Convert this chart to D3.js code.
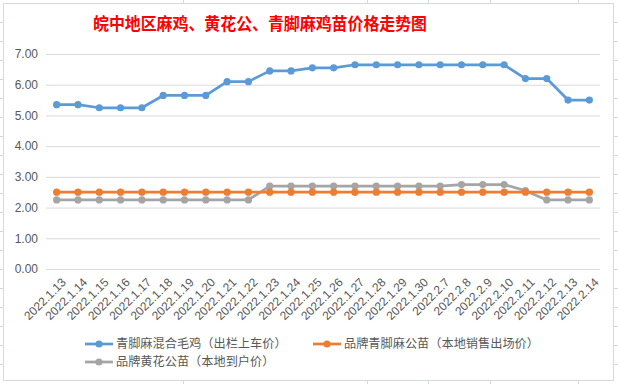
<html>
<head>
  <meta charset="utf-8" />
  <title>皖中地区麻鸡、黄花公、青脚麻鸡苗价格走势图</title>
  <style type="text/css">
    body { margin: 0; background: #fff; }
    svg { display: block; font-family: "Noto Sans CJK SC", "Noto Sans", sans-serif; }
  </style>
  <script src="https://cdn.jsdelivr.net/npm/d3@7/dist/d3.min.js"></script>
</head>
<body>
  <svg width="618" height="384"></svg>
<script>
  var dates = ["2022.1.13", "2022.1.14", "2022.1.15", "2022.1.16", "2022.1.17", "2022.1.18", "2022.1.19",
    "2022.1.20", "2022.1.21", "2022.1.22", "2022.1.23", "2022.1.24", "2022.1.25", "2022.1.26", "2022.1.27",
    "2022.1.28", "2022.1.29", "2022.1.30", "2022.2.7", "2022.2.8", "2022.2.9", "2022.2.10", "2022.2.11",
    "2022.2.12", "2022.2.13", "2022.2.14"];

  var maji = [5.35, 5.35, 5.25, 5.25, 5.25, 5.65, 5.65, 5.65, 6.1, 6.1, 6.45, 6.45, 6.55, 6.55, 6.65,
    6.65, 6.65, 6.65, 6.65, 6.65, 6.65, 6.65, 6.2, 6.2, 5.5, 5.5];
  var qingjiao = [2.5, 2.5, 2.5, 2.5, 2.5, 2.5, 2.5, 2.5, 2.5, 2.5, 2.5, 2.5, 2.5, 2.5, 2.5,
    2.5, 2.5, 2.5, 2.5, 2.5, 2.5, 2.5, 2.5, 2.5, 2.5, 2.5];
  var huanghua = [2.25, 2.25, 2.25, 2.25, 2.25, 2.25, 2.25, 2.25, 2.25, 2.25, 2.7, 2.7, 2.7, 2.7, 2.7,
    2.7, 2.7, 2.7, 2.7, 2.75, 2.75, 2.75, 2.55, 2.25, 2.25, 2.25];

  var yTicks = [0, 1, 2, 3, 4, 5, 6, 7];

  var series = [
    { name: "青脚麻混合毛鸡（出栏上车价）", values: maji, color: "#5b9bd5" },
    { name: "品牌青脚麻公苗（本地销售出场价）", values: qingjiao, color: "#ed7d31" },
    { name: "品牌黄花公苗（本地到户价）", values: huanghua, color: "#a5a5a5" }
  ];

  var svg = d3.select("svg");

  // spreadsheet cells peeking out around the chart
  var edge = svg.append("g").attr("stroke", "#d0d7e5").attr("stroke-width", 1);
  [22, 41, 60, 79, 98, 117, 136, 155, 174, 193, 212, 231, 250, 269, 288, 307, 326, 345, 364].forEach(function (y) {
    edge.append("line").attr("x1", 0).attr("x2", 3).attr("y1", y + 0.5).attr("y2", y + 0.5);
    edge.append("line").attr("x1", 614).attr("x2", 618).attr("y1", y + 0.5).attr("y2", y + 0.5);
  });
  [183, 367, 428, 490, 578].forEach(function (x) {
    edge.append("line").attr("x1", x + 0.5).attr("x2", x + 0.5).attr("y1", 0).attr("y2", 3);
    edge.append("line").attr("x1", x + 0.5).attr("x2", x + 0.5).attr("y1", 381).attr("y2", 384);
  });

  svg.append("rect")
    .attr("x", 3.5).attr("y", 3.5).attr("width", 610).attr("height", 377)
    .attr("fill", "#fff").attr("stroke", "#d9d9d9");

  var title = svg.append("text")
    .attr("x", 260).attr("y", 30)
    .attr("text-anchor", "middle")
    .attr("fill", "#ff0000")
    .style("font-size", "17.5px")
    .style("font-weight", "bold")
    .text("皖中地区麻鸡、黄花公、青脚麻鸡苗价格走势图");
  // keep the title to the width it has in the original
  if (title.node().getComputedTextLength() > 334) {
    title.attr("textLength", 334).attr("lengthAdjust", "spacingAndGlyphs");
  }

  var x = d3.scaleBand().domain(dates).range([46, 600]);
  var y = d3.scaleLinear().domain([0, 7]).range([269, 54]);
  var cx = function (d, i) { return x(dates[i]) + x.bandwidth() / 2 };

  // gridlines + y labels
  var yAxis = svg.append("g")
    .attr("transform", "translate(46,0)")
    .call(d3.axisLeft(y).tickValues(yTicks).tickFormat(d3.format(".2f")).tickSize(-554).tickPadding(8));
  yAxis.select(".domain").remove();
  yAxis.selectAll(".tick line").attr("stroke", "#d9d9d9");
  yAxis.selectAll(".tick text").attr("fill", "#595959").style("font-size", "12px")
    .style("font-family", "'Liberation Sans', Arial, sans-serif");

  // x labels
  var xAxis = svg.append("g")
    .attr("transform", "translate(0,269)")
    .call(d3.axisBottom(x).tickSize(0));
  xAxis.select(".domain").remove();
  xAxis.selectAll(".tick text")
    .attr("fill", "#595959")
    .style("font-size", "12px")
    .style("font-family", "'Liberation Sans', Arial, sans-serif")
    .attr("text-anchor", "end")
    .attr("dy", null)
    .attr("transform", "translate(8,12) rotate(-45)");

  var line = d3.line().x(cx).y(function (d) { return y(d) });

  series.slice().reverse().forEach(function (s) {
    var g = svg.append("g");
    g.append("path")
      .attr("d", line(s.values))
      .attr("fill", "none")
      .attr("stroke", s.color)
      .attr("stroke-width", 2.75)
      .attr("stroke-linejoin", "round");
    g.selectAll("circle")
      .data(s.values)
      .enter()
      .append("circle")
      .attr("cx", cx)
      .attr("cy", function (d) { return y(d) })
      .attr("r", 3.6)
      .attr("fill", s.color);
  });

  // legend
  var legendPos = [[85, 344], [313, 344], [85, 362]];
  series.forEach(function (s, i) {
    var p = legendPos[i];
    var g = svg.append("g").attr("transform", "translate(" + p[0] + "," + p[1] + ")");
    g.append("line").attr("x1", 0).attr("x2", 28).attr("y1", 0).attr("y2", 0)
      .attr("stroke", s.color).attr("stroke-width", 2.75);
    g.append("circle").attr("cx", 14).attr("cy", 0).attr("r", 3.6).attr("fill", s.color);
    g.append("text").attr("x", 31).attr("y", 0).attr("dy", "0.36em")
      .attr("fill", "#595959").style("font-size", "12.2px").text(s.name);
  });
</script>
</body>
</html>
